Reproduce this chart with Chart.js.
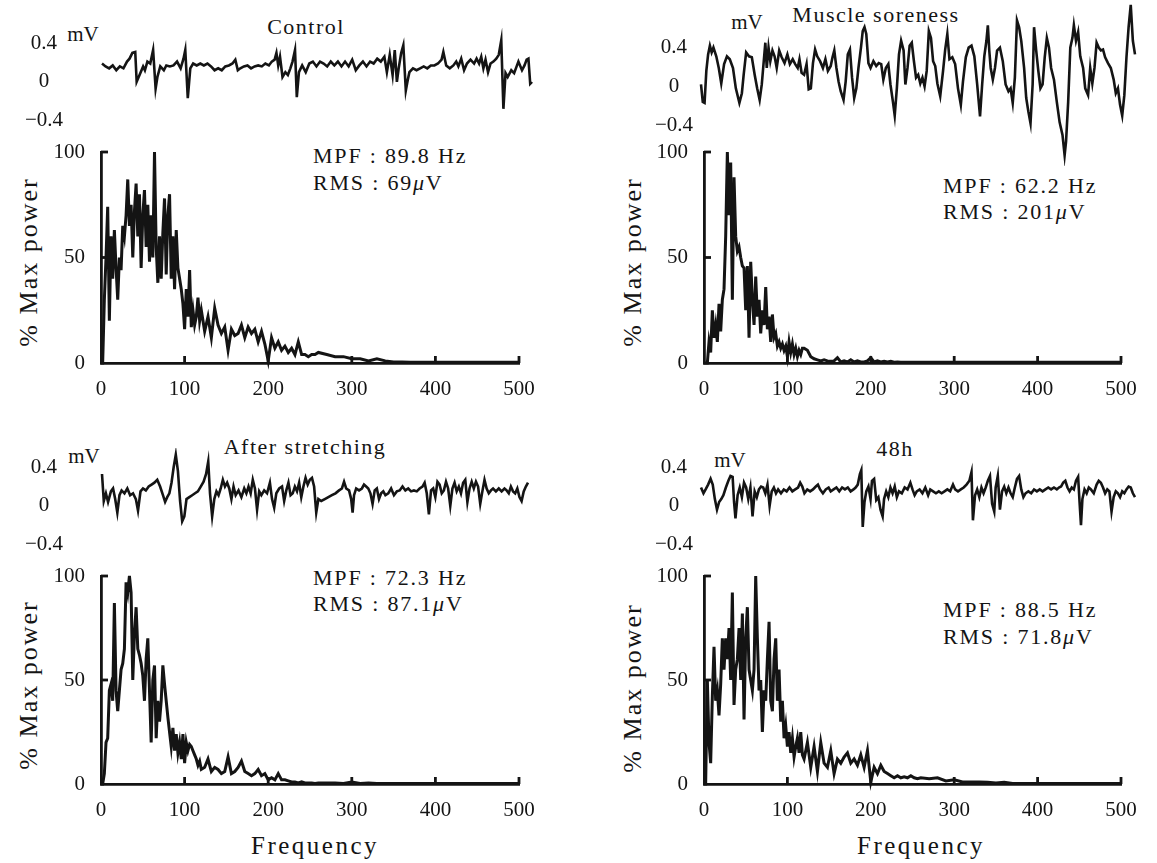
<!DOCTYPE html>
<html>
<head>
<meta charset="utf-8">
<title>EMG traces and power spectra</title>
<script src="https://cdn.jsdelivr.net/npm/chart.js@4.4.1/dist/chart.umd.min.js"></script>
<style>
  body { margin: 0; background: #fff; }
  #page { position: relative; width: 1157px; height: 863px; overflow: hidden; background: #fff;
          font-family: "Liberation Serif", "DejaVu Serif", serif; color: #141414; }
  #page canvas { position: absolute; }
  .txt { position: absolute; white-space: nowrap; line-height: 1; }
  .c { transform: translate(-50%, -50%); }
  .l { transform: translate(0, -50%); }
  .title { font-size: 22px; letter-spacing: 1.5px; }
  .unit { font-size: 21px; }
  .note { font-size: 22px; letter-spacing: 1.8px; }
  .ylab { font-size: 26px; letter-spacing: 2px; transform: translate(-50%, -50%) rotate(-90deg); }
  .xlab { font-size: 25px; letter-spacing: 2.5px; }
</style>
</head>
<body>
<div id="page">
  <div class="txt c title" style="left:306px;top:27px">Control</div>
  <div class="txt c title" style="left:876px;top:15px">Muscle soreness</div>
  <div class="txt c title" style="left:305px;top:447px">After stretching</div>
  <div class="txt c title" style="left:895px;top:449px">48h</div>

  <div class="txt c unit" style="left:83px;top:34px">mV</div>
  <div class="txt c unit" style="left:747px;top:22px">mV</div>
  <div class="txt c unit" style="left:84px;top:456px">mV</div>
  <div class="txt c unit" style="left:730px;top:460px">mV</div>

  <div class="txt l note" style="left:313px;top:156px">MPF : 89.8 Hz</div>
  <div class="txt l note" style="left:313px;top:183px">RMS : 69<i>μ</i>V</div>
  <div class="txt l note" style="left:943px;top:186px">MPF : 62.2 Hz</div>
  <div class="txt l note" style="left:943px;top:212px">RMS : 201<i>μ</i>V</div>
  <div class="txt l note" style="left:313px;top:578px">MPF : 72.3 Hz</div>
  <div class="txt l note" style="left:313px;top:604px">RMS : 87.1<i>μ</i>V</div>
  <div class="txt l note" style="left:943px;top:610px">MPF : 88.5 Hz</div>
  <div class="txt l note" style="left:943px;top:637px">RMS : 71.8<i>μ</i>V</div>

  <div class="txt ylab" style="left:29px;top:262px">% Max power</div>
  <div class="txt ylab" style="left:633px;top:262px">% Max power</div>
  <div class="txt ylab" style="left:29px;top:685px">% Max power</div>
  <div class="txt ylab" style="left:633px;top:688px">% Max power</div>

  <div class="txt c xlab" style="left:315px;top:845px">Frequency</div>
  <div class="txt c xlab" style="left:921px;top:845px">Frequency</div>
</div>

<script>
// axis ticks
const freqTicks = [0, 100, 200, 300, 400, 500];
const powerTicks = [0, 50, 100];
const mvTicks = [-0.4, 0, 0.4];

// frequency bins shared by the four spectra (Hz)
const freqHz = [0,2,4,6,8,10,12,14,16,18,20,22,24,26,28,30,32,34,36,38,40,42,44,46,48,50,52,54,56,58,
  60,62,64,66,68,70,72,74,76,78,80,82,84,86,88,90,92,94,96,98,100,102,104,106,108,110,112,114,116,118,120,
  124,128,132,136,140,144,148,152,156,160,164,168,172,176,180,184,188,192,196,200,204,208,212,216,220,
  224,228,232,236,240,244,248,252,256,260,
  270,280,290,300,310,320,330,340,350,360,370,380,390,400,410,420,430,440,450,460,470,480,490,500];

// % max power
const controlPower = [0,0,30,50,74,20,60,40,63,45, 30,50,44,65,60,70,87,65,75,50, 72,85,60,80,45,70,82,55,75,48,
  70,50,100,55,38,60,40,62,78,42, 70,80,40,60,35,63,45,40,35,28, 16,35,22,44,17,25,18,22,31,20, 25,
  15,22,12,26,18,14,17,6,16,13, 14,18,12,17,14,16,10,15,9,1, 12,7,10,6,8,5,7,4,10,4, 4,3,4,4,5,
  4,3,3,2,2,1,2,1,0.5,0.5,0.3,0.3,0.3,0.3,0.3,0.3,0.3,0.3,0.3,0.3,0.3,0.3,0.3,0.3];
const sorenessPower = [0,0,0,10,5,25,12,18,10,28, 15,30,35,60,100,70,95,30,88,60, 53,55,50,46,45,25,46,12,48,30,
  18,41,22,30,14,25,18,36,16,22, 10,23,12,14,8,10,7,9,6,8, 3,10,5,9,4,7,3,6,4,7, 7,
  6,3,2,1.5,1,1.5,1,0.8,1,2.5, 0.5,1,0.5,1.5,0.5,1,0.5,0.5,1,2.5, 0.5,1,0.5,0.8,0.5,0.8,0.4,0.5,0.4,0.3, 0.4,0.3,0.3,0.3,0.3,
  0.3,0.3,0.3,0.3,0.3,0.3,0.3,0.3,0.3,0.3,0.3,0.3,0.3,0.3,0.3,0.3,0.3,0.3,0.3,0.3,0.3,0.3,0.3,0.3];
const stretchPower = [0,0,5,20,22,45,48,40,87,45, 35,45,55,58,65,97,92,100,92,50, 72,85,65,62,58,52,40,60,70,45,
  20,50,57,22,40,30,40,57,48,40, 32,25,18,27,16,24,15,20,12,24, 10,20,16,19,18,16,14,12,9,11, 7,
  8,12,6,8,7,5,6,13,5,6, 8,11,6,5,4,5,7,4,5,2, 3,2,5,2,2,1.5,1,1,0.5,1, 0.5,0.5,0.5,0.3,0.5,
  0.5,0.5,0.3,1,0.3,0.5,0.3,0.3,0.3,0.3,0.3,0.3,0.3,0.3,0.3,0.3,0.3,0.3,0.3,0.3,0.3,0.3,0.3,0.3];
const h48Power = [0,0,50,20,10,42,66,40,45,33, 48,70,55,70,60,75,50,92,38,55, 60,75,50,82,31,70,85,55,50,45,
  55,100,70,45,50,25,45,40,60,78, 40,35,60,70,40,55,30,40,22,28, 18,25,15,22,13,18,22,15,25,14, 12,
  20,8,18,6,20,10,8,16,5,12, 10,13,15,10,12,9,14,8,16,1, 8,5,9,6,5,4,3,4,3,3.5, 3,4,3,2.5,3,
  2.5,3,1.5,2,1,1,1,0.8,0.5,0.8,0.3,0.3,0.3,0.3,0.3,0.3,0.3,0.3,0.3,0.3,0.3,0.3,0.3,0.3];

// raw EMG traces: time (position along the record) and mV
const controlT = [285,295,305,315,325,335,345,355,362,370, 378,382,390,400,405,412,420,428,435,440,
  448,458,465,475,485,495,505,513,518,525, 532,540,550,560,570,580,590,600,610,620,
  630,640,650,658,665,672,682,692,702,712, 722,732,742,752,760,768,773,778,783,790,
  798,805,812,818,825,830,836,845,855,865, 875,885,895,905,915,925,935,945,955,965,
  975,985,995,1005,1015,1025,1035,1045,1055,1065, 1075,1082,1090,1098,1104,1110,1115,1122,1128,1135,
  1140,1145,1155,1165,1175,1185,1195,1205,1215,1225, 1235,1240,1248,1258,1268,1276,1282,1290,1298,1306,
  1316,1326,1333,1340,1346,1352,1358,1365,1372,1380, 1388,1395,1402,1408,1414,1420,1430,1438,1445,1450,
  1460,1467,1473,1478,1483,1488];
const controlMv = [0.19,0.16,0.14,0.17,0.12,0.16,0.14,0.21,0.24,0.30, 0.31,0,0.07,0.16,0.12,0.21,0.19,0.33,-0.07,0.05,
  0.16,0.12,0.17,0.16,0.17,0.21,0.14,0.24,0.33,-0.17, 0.14,0.19,0.17,0.19,0.17,0.19,0.16,0.12,0.14,0.12,
  0.16,0.17,0.19,0.23,0.12,0.14,0.16,0.17,0.14,0.16, 0.17,0.16,0.19,0.17,0.21,0.23,0.30,0.17,0.26,0.05,
  0.10,0.07,0.14,0.21,0.33,-0.16,0.10,0.17,0.10,0.19, 0.21,0.16,0.21,0.19,0.16,0.21,0.17,0.21,0.16,0.21,
  0.16,0.23,0.12,0.17,0.21,0.16,0.21,0.19,0.24,0.21, 0.26,0.10,0.28,0.07,0.33,0,0.14,0.30,0.38,-0.09,
  0.01,0.10,0.14,0.12,0.14,0.16,0.14,0.17,0.17,0.19, 0.23,0.31,0.17,0.14,0.17,0.21,0.16,0.24,0.12,0.19,
  0.23,0.19,0.24,0.19,0.26,0.14,0.23,0.10,0.19,0.21, 0.24,0.28,0.43,-0.28,0.09,0.05,0.12,0.09,0.16,0.21,
  0.12,0.17,0.23,0.24,-0.02,0];

const sorenessT = [285,290,295,300,305,310,315,320,328,335, 342,350,358,366,375,383,393,400,405,412,
  420,428,436,443,450,456,462,466,470,475, 480,486,492,498,505,512,520,528,535,543,
  550,557,562,568,575,582,588,594,600,606, 612,620,628,635,642,650,655,660,666,672,
  678,686,692,698,704,710,716,722,728,735, 740,745,750,756,762,770,778,785,792,798,
  805,812,818,825,830,836,842,848,855,860, 866,872,878,884,890,896,902,908,914,920,
  926,932,938,944,950,958,966,972,978,984, 992,1000,1008,1016,1022,1030,1038,1046,1054,1062,
  1070,1076,1082,1088,1092,1096,1100,1106,1112,1118, 1126,1134,1142,1150,1156,1162,1168,1174,1180,1186,
  1194,1200,1206,1212,1218,1222,1228,1234,1240,1246, 1252,1258,1264,1270,1278,1286,1294,1302,1308,1312,
  1318,1324,1330,1334,1340,1346,1352,1360,1366,1374, 1380,1386,1392,1398,1404,1410,1416,1422,1430,1438,
  1446,1452,1458,1464,1470,1476,1482,1488,1494,1500, 1506];
const sorenessMv = [0.02,-0.16,-0.17,0.16,0.33,0.42,0.35,0.40,0.31,0.19, 0.03,0.23,0.31,0.28,0.19,-0.02,-0.17,-0.07,0.12,0.35,
  0.31,0.30,0.12,-0.02,-0.14,0.02,0.28,0.45,0.19,0.40, 0.26,0.37,0.31,0.19,0.37,0.30,0.24,0.33,0.23,0.28,
  0.23,0.19,0.28,0.14,0.12,0.23,-0.03,-0.02,0.24,0.38, 0.31,0.26,0.19,0.28,0.16,0.21,0.30,0.37,0.19,0.05,
  -0.05,-0.14,0.05,0.33,0.38,0.09,-0.12,-0.02,0.19,0.40, 0.57,0.61,0.54,0.24,0.19,0.26,0.21,0.24,0.23,0.07,
  0.19,0.23,0.02,-0.16,-0.30,-0.02,0.33,0.47,0.37,0.02, 0.19,0.42,0.45,0.26,0.09,0.12,0.03,0.09,0,0.16,
  0.57,0.50,0.26,0.21,0.03,-0.10,0.16,0.38,0.54,0.28, 0.30,0.23,-0.02,-0.19,0.05,0.30,0.40,0.42,0.31,0.02,
  -0.31,0.02,0.31,0.47,0.63,0.37,0.19,0.07,0.19,0.37, 0.40,0.26,0.02,-0.05,-0.02,-0.17,0.09,0.68,0.61,0.47,
  0.19,-0.12,-0.26,-0.38,0.02,0.61,0.37,0.16,-0.02,0.02, 0.30,0.50,0.40,0.19,0.07,-0.16,-0.37,-0.50,-0.71,-0.57,
  -0.16,0.40,0.50,0.63,0.47,0.56,0.31,0.19,-0.02,-0.09, 0.19,0.03,0.19,0.45,0.40,0.37,0.38,0.30,0.24,0.19,
  0.07,-0.07,-0.02,-0.19,-0.30,-0.09,0.30,0.61,0.84,0.47, 0.33];

const stretchT = [285,290,296,302,310,316,322,328,334,340, 348,356,364,372,380,386,393,400,408,416,
  424,432,440,448,456,462,468,474,480,486, 492,498,504,510,516,522,530,538,546,554,
  562,570,577,583,588,594,600,606,612,618, 624,630,636,642,648,654,660,668,676,684,
  690,696,702,708,714,720,726,732,740,748, 756,762,768,774,782,790,796,802,808,814,
  820,826,832,838,844,850,856,862,868,874, 880,886,892,900,910,920,930,940,950,958,
  964,970,978,984,988,992,998,1006,1014,1020, 1026,1032,1038,1044,1050,1056,1062,1068,1074,1080,
  1088,1096,1104,1112,1120,1128,1136,1144,1152,1160, 1168,1176,1184,1190,1196,1202,1208,1214,1220,1226,
  1232,1238,1244,1250,1256,1262,1268,1274,1280,1286, 1292,1298,1304,1310,1316,1322,1328,1334,1340,1346,
  1352,1358,1364,1370,1376,1382,1390,1398,1406,1414, 1420,1426,1432,1438,1444,1450,1456,1462,1468,1474,
  1480];
const stretchMv = [0.33,0.05,0.13,0.04,0.15,0.18,0.07,-0.07,0.11,0.16, 0.13,0.18,0.11,0.13,0.07,-0.05,0.15,0.18,0.16,0.20,
  0.22,0.24,0.27,0.20,0.11,0.04,0.09,0.13,0.24,0.40, 0.53,0.36,0.05,-0.16,-0.11,0.07,0.09,0.11,0.13,0.15,
  0.20,0.25,0.33,0.46,0.13,-0.11,0.07,0.15,0.11,0.18, 0.27,0.20,0.24,0.18,0.07,0.20,0.11,0.16,0.09,0.18,
  0.13,0.20,0.13,0.27,0.18,-0.04,0.15,0.11,0.16,0.13, 0.24,0.07,-0.02,0.13,0.18,0.20,0.05,0.16,0.24,0.11,
  0.13,0.20,0.15,0.24,0.09,0.20,0.29,0.22,0.27,0.29, 0.20,-0.07,0.07,0.05,0.07,0.09,0.11,0.13,0.16,0.18,
  0.25,0.18,0.16,0.07,-0.07,0.11,0.18,0.16,0.18,0.22, 0.20,0.18,0.13,0.02,0.16,0.18,0.07,0.13,0.15,0.11,
  0.13,0.18,0.11,0.15,0.16,0.20,0.16,0.18,0.15,0.16, 0.15,0.18,0.20,0.24,0.13,-0.09,0.16,0.18,0.09,0.25,
  0.22,0.13,0.16,0.25,0.18,0,0.18,0.24,0.15,0.20, 0.13,0.24,0.27,0.04,0.18,0.25,0.18,0.25,0.20,0.02,
  0.15,0.27,0.18,0.13,0.16,0.18,0.15,0.18,0.15,0.18, 0.16,0.13,0.20,0.15,0.13,0.18,0.09,0.05,0.15,0.20,
  0.24];

const h48T = [285,292,298,305,312,318,324,330,336,342, 348,355,362,368,374,378,382,388,394,400,
  406,412,418,424,430,436,442,448,454,460, 466,472,478,484,490,496,502,510,518,526,
  534,542,550,558,564,570,576,584,592,600, 608,614,620,628,636,644,650,658,666,674,
  682,690,698,706,714,720,726,732,736,740, 745,750,756,762,766,772,778,784,790,796,
  800,806,812,818,824,830,836,842,850,858, 866,874,880,886,892,900,908,916,924,930,
  938,946,954,962,970,978,986,994,1000,1008, 1016,1024,1032,1040,1046,1050,1056,1062,1068,1074,
  1080,1086,1092,1098,1104,1110,1114,1120,1126,1132, 1138,1144,1150,1156,1162,1168,1174,1180,1186,1192,
  1198,1206,1214,1222,1230,1238,1246,1254,1262,1270, 1278,1286,1292,1298,1304,1310,1316,1322,1328,1334,
  1340,1346,1350,1354,1358,1364,1370,1376,1382,1390, 1398,1404,1410,1416,1422,1428,1434,1440,1446,1452,
  1458,1464,1470,1476,1482,1488,1494,1500,1506];
const h48Mv = [0.19,0.13,0.17,0.22,0.28,0.22,0.07,-0.04,0.04,0.07, 0.11,0.19,0.26,0.31,0.30,0.04,-0.13,0.11,0.19,0.09,
  0.24,0.19,0.07,0.19,-0.11,0.15,0.09,0.17,0.20,0.19, 0.13,0.22,0,0.15,0.19,0.13,0.17,0.13,0.17,0.15,
  0.19,0.15,0.17,0.19,0.24,0.20,0.13,0.17,0.15,0.17, 0.20,0.22,0.17,0.13,0.17,0.19,0.15,0.17,0.19,0.15,
  0.19,0.17,0.19,0.15,0.17,0.19,0.22,0.33,0.37,-0.22, 0.04,0.15,0.20,0.07,0.26,0.28,0.06,0.09,-0.04,-0.11,
  0.07,0.15,0.09,0.19,0.13,0.20,0.09,0.15,0.13,0.19, 0.17,0.24,0.17,0.11,0.15,0.17,0.13,0.19,0.11,0.17,
  0.15,0.13,0.15,0.13,0.15,0.17,0.15,0.22,0.17,0.15, 0.17,0.19,0.22,0.26,0.35,-0.15,0.11,0.17,0.09,0.19,
  0.13,0.19,0.26,0.31,0.02,-0.06,0.19,0.31,-0.04,0.15, 0.20,0.13,0.19,0.13,0.09,0.19,0.28,0.31,0.17,0.09,
  0.13,0.15,0.13,0.17,0.15,0.17,0.15,0.17,0.19,0.17, 0.19,0.17,0.19,0.20,0.24,0.26,0.19,0.15,0.19,0.17,
  0.26,0.30,0.04,-0.20,0.07,0.17,0.13,0.19,0.17,0.13, 0.22,0.26,0.24,0.19,0.13,0.17,0.15,-0.06,0.09,0.15,
  0.13,0.09,0.15,0.13,0.17,0.20,0.19,0.13,0.09];

Chart.defaults.font.family = '"Liberation Serif", "DejaVu Serif", serif';
Chart.defaults.font.size = 21;
Chart.defaults.color = '#141414';
const ink = '#141414';

// little tick marks drawn inside the plot, like the printed figure
const inwardTicks = {
  id: 'inwardTicks',
  afterDraw(chart, args, opts) {
    const { ctx, scales: { x, y } } = chart;
    ctx.save();
    ctx.strokeStyle = ink;
    ctx.lineWidth = 2.8;
    (opts.y || []).forEach(v => {
      const py = y.getPixelForValue(v);
      ctx.beginPath(); ctx.moveTo(x.left, py); ctx.lineTo(x.left + opts.len, py); ctx.stroke();
    });
    (opts.x || []).forEach(v => {
      const px = x.getPixelForValue(v);
      ctx.beginPath(); ctx.moveTo(px, y.bottom); ctx.lineTo(px, y.bottom - opts.len); ctx.stroke();
    });
    ctx.restore();
  }
};

function makeCanvas(area, m) {
  const c = document.createElement('canvas');
  c.width = area.x1 - area.x0 + m.l + m.r;
  c.height = area.y1 - area.y0 + m.t + m.b;
  c.style.left = (area.x0 - m.l) + 'px';
  c.style.top = (area.y0 - m.t) + 'px';
  document.getElementById('page').appendChild(c);
  return c;
}

function spectrum(area, power) {
  const m = { l: 100, r: 30, t: 14, b: 36 };
  const c = makeCanvas(area, m);
  return new Chart(c, {
    type: 'line',
    data: {
      datasets: [{
        data: freqHz.map((f, i) => ({ x: f, y: power[i] })),
        borderColor: ink, borderWidth: 3, pointRadius: 0, tension: 0, clip: false,
        borderJoinStyle: 'miter'
      }]
    },
    options: {
      responsive: false, animation: false,
      layout: { padding: { top: m.t, right: m.r, left: 0, bottom: 0 } },
      plugins: {
        legend: { display: false }, tooltip: { enabled: false },
        inwardTicks: { x: [100, 200, 300, 400, 500], y: [50, 100], len: 7 }
      },
      scales: {
        x: {
          type: 'linear', min: 0, max: 500,
          afterBuildTicks: s => { s.ticks = freqTicks.map(v => ({ value: v })); },
          afterFit: s => { s.height = m.b; s.paddingLeft = 0; s.paddingRight = 0; },
          grid: { display: false }, border: { color: ink, width: 2.8 },
          ticks: { padding: 6, maxRotation: 0 }
        },
        y: {
          min: 0, max: 100,
          afterBuildTicks: s => { s.ticks = powerTicks.map(v => ({ value: v })); },
          afterFit: s => { s.width = m.l; s.paddingTop = 0; s.paddingBottom = 0; },
          grid: { display: false }, border: { color: ink, width: 2.8 },
          ticks: { padding: 8 }
        }
      }
    },
    plugins: [inwardTicks]
  });
}

function trace(area, t, mv, yMin, yMax, labelPad) {
  const m = { l: 90, r: 6, t: 0, b: 0 };
  const c = makeCanvas(area, m);
  return new Chart(c, {
    type: 'line',
    data: {
      datasets: [{
        data: t.map((v, i) => ({ x: v, y: mv[i] })),
        borderColor: ink, borderWidth: 2.6, pointRadius: 0, tension: 0, clip: false
      }]
    },
    options: {
      responsive: false, animation: false,
      layout: { padding: { top: 0, right: m.r, left: 0, bottom: 0 } },
      plugins: { legend: { display: false }, tooltip: { enabled: false } },
      scales: {
        x: { type: 'linear', display: false, min: t[0], max: t[t.length - 1] },
        y: {
          min: yMin, max: yMax,
          afterBuildTicks: s => { s.ticks = mvTicks.map(v => ({ value: v })); },
          afterFit: s => { s.width = m.l; s.paddingTop = 0; s.paddingBottom = 0; },
          grid: { display: false }, border: { display: false },
          ticks: {
            padding: labelPad, crossAlign: 'center',
            callback: v => v === 0 ? '0' : (v < 0 ? '\u2212' : '') + Math.abs(v).toFixed(1)
          }
        }
      }
    }
  });
}

trace({ x0: 102, x1: 532, y0: 24, y1: 130 }, controlT, controlMv, -0.5, 0.6, 31);
trace({ x0: 701, x1: 1135, y0: 1, y1: 166 }, sorenessT, sorenessMv, -0.82, 0.88, 0);
trace({ x0: 102, x1: 528, y0: 448, y1: 554 }, stretchT, stretchMv, -0.5, 0.6, 31);
trace({ x0: 701, x1: 1135, y0: 448, y1: 554 }, h48T, h48Mv, -0.5, 0.6, 0);

spectrum({ x0: 101, x1: 519, y0: 152, y1: 363 }, controlPower);
spectrum({ x0: 704, x1: 1121, y0: 152, y1: 363 }, sorenessPower);
spectrum({ x0: 101, x1: 519, y0: 576, y1: 784 }, stretchPower);
spectrum({ x0: 704, x1: 1121, y0: 576, y1: 784 }, h48Power);
</script>
</body>
</html>
